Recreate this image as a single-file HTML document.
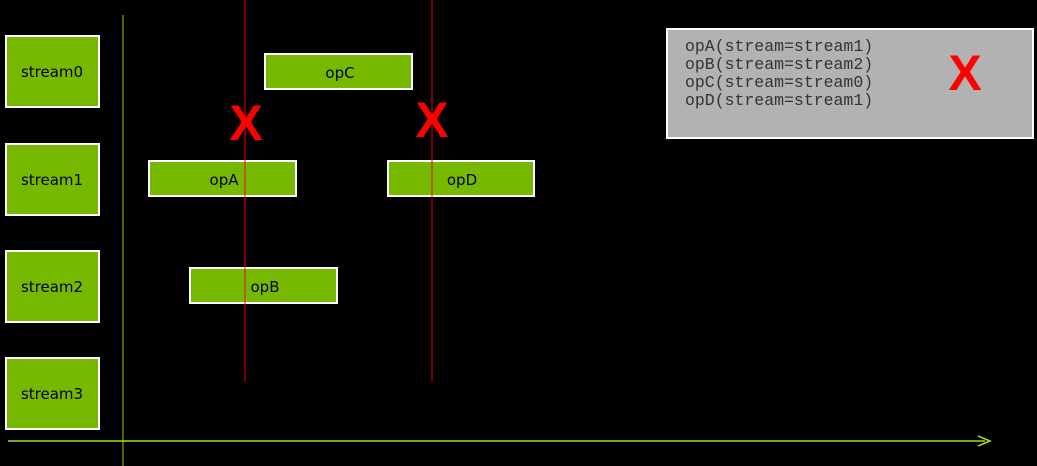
<!DOCTYPE html>
<html><head><style>body{margin:0;background:#000}svg{display:block}</style></head><body>
<svg width="1037" height="466" xmlns="http://www.w3.org/2000/svg" font-family="'DejaVu Sans','Liberation Sans',sans-serif">
<rect width="1037" height="466" fill="#000"/>
<g fill="#76b900" stroke="#fff" stroke-width="2">
<rect x="6" y="36" width="93" height="71"/>
<rect x="6" y="144" width="93" height="71"/>
<rect x="6" y="251" width="93" height="71"/>
<rect x="6" y="358" width="93" height="71"/>
<rect x="265" y="54" width="147" height="35"/>
<rect x="149" y="161" width="147" height="35"/>
<rect x="388" y="161" width="146" height="35"/>
<rect x="190" y="268" width="147" height="35"/>
</g>
<g font-size="15" fill="#000" text-anchor="middle">
<text x="52" y="77">stream0</text><text x="52" y="185">stream1</text>
<text x="52" y="292">stream2</text><text x="52" y="399">stream3</text>
<text x="340" y="78">opC</text><text x="224" y="185">opA</text>
<text x="462" y="185">opD</text><text x="265" y="292">opB</text>
</g>
<line x1="123" y1="15" x2="123" y2="466" stroke="#8fd400" stroke-width="1"/>
<line x1="8" y1="441" x2="985" y2="441" stroke="#a0e020" stroke-width="1.5"/>
<path d="M978 436 L990 441 L978 446" fill="none" stroke="#a0e020" stroke-width="1.5"/>
<line x1="245" y1="0" x2="245" y2="381" stroke="#e00" stroke-width="1"/>
<line x1="432" y1="0" x2="432" y2="381" stroke="#e00" stroke-width="1"/>
<rect x="667" y="29" width="366" height="109" fill="#b2b2b2" stroke="#fff" stroke-width="2"/>
<g fill="#f00" font-family="'Liberation Sans',sans-serif" font-weight="bold" font-size="50" text-anchor="middle">
<text x="246" y="140">X</text><text x="432" y="137">X</text><text x="965" y="90">X</text>
</g>
<g font-family="'Liberation Mono',monospace" font-size="16.5" fill="#333">
<text x="685" y="51">opA(stream=stream1)</text>
<text x="685" y="69">opB(stream=stream2)</text>
<text x="685" y="87">opC(stream=stream0)</text>
<text x="685" y="105">opD(stream=stream1)</text>
</g>
</svg>
</body></html>
